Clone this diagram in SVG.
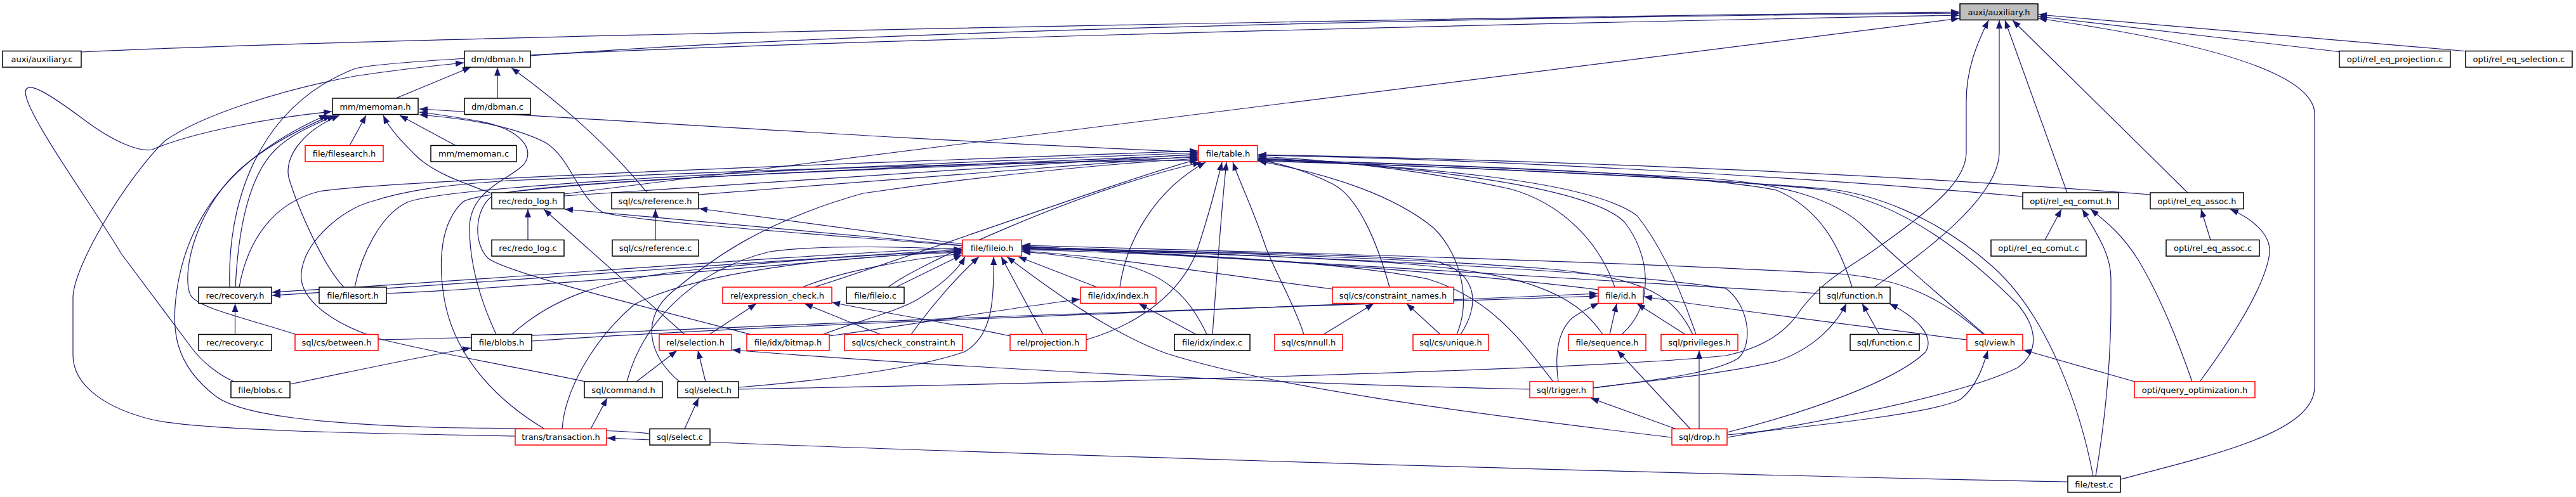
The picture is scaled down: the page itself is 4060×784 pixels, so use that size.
<svg xmlns="http://www.w3.org/2000/svg" width="4060" height="784" viewBox="0 0 4060 784">
<style>
rect{fill:#fff;stroke:#000;stroke-width:1.5}
.r rect{stroke:#f00}
.root rect{fill:#bfbfbf}
text{font-family:"DejaVu Sans","Liberation Sans",sans-serif;font-size:13px;fill:#000;text-anchor:middle}
#edges path{fill:none;stroke:#191970;stroke-width:1.2;marker-end:url(#ah)}
</style>
<defs><marker id="ah" markerWidth="13" markerHeight="10" refX="13" refY="5" orient="auto" markerUnits="userSpaceOnUse"><path d="M0,0 L13,5 L0,10 z" fill="#191970"/></marker></defs>
<rect x="0" y="0" width="4060" height="784" style="stroke:none"/>
<g id="edges">
<path d="M128,82 C 700,55 2500,25 3088,19"/>
<path d="M836,88 C 1400,45 2500,25 3088,21"/>
<path d="M362,453 C 358,330 400,170 560,108 C 700,75 2500,35 3088,24"/>
<path d="M889,306 L3088,29"/>
<path d="M1164,614 C 1600,606 2500,585 2720,561 C 2780,548 2810,525 2830,500 C 2870,440 2920,420 2960,390 C 3060,320 3099,280 3099,240 L3099,160 C 3099,110 3115,70 3134,32"/>
<path d="M2954,453 C 3000,420 3151,320 3151,240 L3151,32"/>
<path d="M3258,304 L3160,32"/>
<path d="M3448,304 L3172,32"/>
<path d="M3890,81 L3213,23"/>
<path d="M3690,82 L3213,26"/>
<path d="M3342,756 C 3500,715 3648,680 3648,610 L3648,180 C 3648,120 3500,70 3213,29"/>
<path d="M624,155 L742,106"/>
<path d="M784,155 L784,106.5"/>
<path d="M1020,304 C 960,230 880,160 806,107"/>
<path d="M812,688 C 600,684 320,680 240,662 C 170,645 115,610 115,560 L115,470 C 115,420 200,280 260,222 C 320,180 450,140 560,120 C 640,108 690,103 731,99"/>
<path d="M369,602 C 345,592 318,570 303,550 L191,400 C 150,330 40,180 40,145 C 42,125 80,150 130,187 C 180,225 220,240 240,236 C 300,210 420,186 523,176"/>
<path d="M1024,684 C 960,676 750,676 680,674 C 500,668 380,655 340,625 C 275,575 268,520 280,450 C 300,330 380,240 516,181"/>
<path d="M468,528 C 380,500 310,485 300,465 C 285,430 310,320 390,257 C 430,225 480,200 522,182"/>
<path d="M371,453 C 375,370 390,280 434,236 C 460,210 500,195 528,182"/>
<path d="M542,453 C 510,420 470,330 455,280 C 448,245 480,205 535,182"/>
<path d="M551,229.5 L577,182"/>
<path d="M775,305 C 720,285 680,270 655,245 C 635,225 615,205 604,182"/>
<path d="M718,229.5 L630,182"/>
<path d="M1889,240 C 1500,225 900,185 661,172"/>
<path d="M782,527.5 C 760,480 740,420 740,360 C 740,300 800,285 825,260 C 845,235 820,205 760,192 C 720,185 690,180 661,177"/>
<path d="M1517,388 C 1300,370 1000,350 950,335 C 910,310 900,250 860,225 C 800,195 720,186 661,181"/>
<path d="M370.5,527.5 L370.5,479"/>
<path d="M1517,391 C 1200,405 800,440 429,461"/>
<path d="M1517,394 C 1200,410 800,445 429,466"/>
<path d="M377,453 C 390,380 430,320 503,302 C 600,285 1400,255 1888,238"/>
<path d="M559,453 C 570,400 600,340 640,320 C 700,290 1400,260 1888,241"/>
<path d="M889,309 C 1300,280 1700,254 1888,243"/>
<path d="M1101,307 C 1400,285 1700,262 1888,246"/>
<path d="M858,676.5 C 780,630 715,560 700,470 C 690,410 695,350 730,318 C 790,285 1500,262 1888,244"/>
<path d="M1183,527.5 C 1000,480 800,430 770,408 C 745,385 748,330 775,310 C 820,285 1500,262 1888,248"/>
<path d="M1283,453 C 1450,400 1750,290 1888,251"/>
<path d="M1071,602 C 1020,560 1010,500 1060,460 C 1120,410 1200,350 1360,305 C 1600,270 1800,255 1888,250"/>
<path d="M923,602 C 820,580 700,560 600,535 C 520,510 470,470 475,430 C 480,380 540,330 585,318 C 640,300 700,292 800,285 C 1200,268 1600,255 1888,253"/>
<path d="M988,602 C 1010,520 1080,430 1213,397 C 1300,385 1450,390 1516,394"/>
<path d="M1400,453 C 1440,420 1700,300 1893,256"/>
<path d="M1765,453 C 1775,380 1820,300 1900,256"/>
<path d="M1712,536 C 1800,510 1860,460 1885,400 C 1905,340 1915,300 1926,256"/>
<path d="M1911,527.5 C 1918,430 1925,330 1933,256"/>
<path d="M2055,527.5 C 2040,480 2010,430 1995,390 C 1975,330 1955,290 1943,256"/>
<path d="M2190,453 C 2170,380 2140,310 2100,290 C 2060,270 2020,258 1983,252"/>
<path d="M2296,527.5 C 2320,470 2300,400 2260,360 C 2200,310 2100,275 1983,254"/>
<path d="M2545,453 C 2520,380 2460,320 2380,298 C 2250,270 2100,252 1983,247"/>
<path d="M2556,527.5 C 2610,480 2600,400 2560,350 C 2500,290 2200,260 1983,249"/>
<path d="M2673,527.5 C 2650,460 2620,390 2580,340 C 2500,280 2200,262 1983,250"/>
<path d="M2919,453 C 2900,390 2870,330 2800,300 C 2650,270 2200,258 1983,251"/>
<path d="M3128,527.5 C 3050,460 2980,400 2940,360 C 2890,310 2800,290 2700,282 C 2400,265 2200,258 1983,252"/>
<path d="M2722,690 C 2900,660 3100,620 3180,580 C 3220,550 3205,510 3180,480 C 3100,400 3000,320 2880,300 C 2700,280 2200,260 1983,253"/>
<path d="M3299,751 C 3280,650 3230,500 3140,420 C 3050,340 2950,305 2880,298 C 2600,275 2200,260 1983,254"/>
<path d="M3188,310 C 2800,275 2300,250 1983,245"/>
<path d="M3389,307 C 2900,268 2300,250 1983,244"/>
<path d="M2100,456 C 1900,430 1750,405 1611,396"/>
<path d="M2302,527.5 C 2340,470 2320,420 2250,410 C 2100,400 1800,395 1611,393"/>
<path d="M2520,457 C 2300,430 1900,400 1611,394"/>
<path d="M2526,527.5 C 2480,460 2400,430 2200,415 C 2000,402 1800,397 1611,392"/>
<path d="M2668,527.5 C 2640,470 2600,440 2450,425 C 2200,405 1800,395 1611,390"/>
<path d="M2448,602 C 2400,540 2350,470 2250,440 C 2100,410 1800,398 1611,391"/>
<path d="M2511,612 C 2600,600 2700,590 2740,565 C 2765,540 2755,480 2720,455 C 2500,420 1900,400 1611,389"/>
<path d="M2868,463 C 2500,440 1900,405 1611,388"/>
<path d="M3126,527.5 C 3060,470 3000,440 2900,432 C 2500,410 1900,395 1611,387"/>
<path d="M1902,527.5 C 1880,480 1850,440 1780,420 C 1700,405 1650,400 1611,397"/>
<path d="M1296,528 C 1340,510 1420,490 1450,470 C 1490,445 1510,425 1521,405"/>
<path d="M1436,527.5 C 1470,480 1510,435 1543,405"/>
<path d="M1164,611 C 1300,600 1450,580 1520,555 C 1565,530 1567,470 1566,405"/>
<path d="M1644,527.5 L1578,405"/>
<path d="M2635,690 C 2300,650 2000,610 1837,557 C 1750,525 1660,460 1587,405"/>
<path d="M1729,453 L1605,405"/>
<path d="M1412,453 L1516,402"/>
<path d="M806,528 C 870,470 950,440 1100,425 C 1300,405 1450,398 1516,397"/>
<path d="M1265,453 C 1320,430 1420,410 1516,400"/>
<path d="M886,676.5 C 890,620 930,540 1000,480 C 1100,430 1300,405 1516,398"/>
<path d="M609,463 C 900,450 1300,410 1516,395"/>
<path d="M1517,387 L890,330"/>
<path d="M1517,385 L1102,329"/>
<path d="M838,538 C 1200,512 1800,495 2518,463"/>
<path d="M596,536 C 900,530 1360,506 1700,495 C 2000,485 2300,475 2518,467"/>
<path d="M2456,602 C 2450,560 2455,520 2480,500 C 2495,490 2505,485 2520,478"/>
<path d="M2537,527.5 L2548,479"/>
<path d="M2656,527.5 L2580,479"/>
<path d="M3100,536 C 2900,510 2720,488 2591,468"/>
<path d="M2086,527.5 L2165,479"/>
<path d="M2270,527.5 L2217,479"/>
<path d="M1307,530 C 1450,510 1600,485 1702,472"/>
<path d="M1885,527.5 L1795,479"/>
<path d="M1118,527.5 L1192,479"/>
<path d="M1388,527.5 C 1360,517 1320,500 1268,479"/>
<path d="M1592,530 C 1500,510 1400,495 1311,477"/>
<path d="M1003,602 L1067,553"/>
<path d="M1112,602 L1100,553"/>
<path d="M2411,614 C 2000,605 1500,580 1154,552"/>
<path d="M832,378.5 L832,330"/>
<path d="M1079,527.5 L857,330"/>
<path d="M1033,378.5 L1033,330"/>
<path d="M2664,676.5 L2549,553"/>
<path d="M2678,676.5 L2678,553"/>
<path d="M2641,676.5 L2507,628"/>
<path d="M2722,686 C 2900,668 3050,650 3090,630 C 3115,610 3125,580 3133,553"/>
<path d="M3368,603 L3189,552"/>
<path d="M2962,527.5 L2935,479"/>
<path d="M2511,612 C 2600,600 2720,590 2800,570 C 2860,550 2895,510 2910,479"/>
<path d="M2722,682 C 2850,650 2990,600 3035,555 C 3050,530 3020,500 2978,479"/>
<path d="M3223,378.5 L3249,330"/>
<path d="M3303,751 C 3320,650 3327,560 3327,480 L3327,440 C 3327,400 3305,370 3282,330"/>
<path d="M3455,602 C 3430,530 3400,460 3370,410 C 3345,370 3320,350 3295,330"/>
<path d="M3484,378.5 L3469,330"/>
<path d="M3467,602 C 3520,530 3570,450 3577,400 C 3580,370 3550,345 3515,330"/>
<path d="M3259,760 C 2500,745 1400,710 957,691"/>
<path d="M931,676.5 L957,628"/>
<path d="M1079,676.5 L1101,628"/>
<path d="M457,606 C 560,585 650,565 742,549"/>
</g>
<g id="auxiliary_h" class="root"><rect x="3089" y="6" width="123" height="25.5"/><text x="3150.5" y="23.5">auxi/auxiliary.h</text></g>
<g id="auxiliary_c"><rect x="4" y="80.5" width="124" height="25.5"/><text x="66" y="98">auxi/auxiliary.c</text></g>
<g id="dbman_h"><rect x="732" y="80.5" width="104" height="25.5"/><text x="784" y="98">dm/dbman.h</text></g>
<g id="rel_eq_projection_c"><rect x="3687" y="80.5" width="175" height="25.5"/><text x="3774.5" y="98">opti/rel_eq_projection.c</text></g>
<g id="rel_eq_selection_c"><rect x="3886" y="80.5" width="168" height="25.5"/><text x="3970" y="98">opti/rel_eq_selection.c</text></g>
<g id="dbman_c"><rect x="732" y="155" width="104" height="25.5"/><text x="784" y="172.5">dm/dbman.c</text></g>
<g id="memoman_h"><rect x="524" y="155" width="135" height="25.5"/><text x="591.5" y="172.5">mm/memoman.h</text></g>
<g id="filesearch_h" class="r"><rect x="481" y="229.5" width="123" height="25.5"/><text x="542.5" y="247">file/filesearch.h</text></g>
<g id="memoman_c"><rect x="679" y="229.5" width="135" height="25.5"/><text x="746.5" y="247">mm/memoman.c</text></g>
<g id="table_h" class="r"><rect x="1889" y="229.5" width="93" height="25.5"/><text x="1935.5" y="247">file/table.h</text></g>
<g id="redo_log_h"><rect x="775" y="304" width="114" height="25.5"/><text x="832" y="321.5">rec/redo_log.h</text></g>
<g id="reference_h"><rect x="964" y="304" width="137" height="25.5"/><text x="1032.5" y="321.5">sql/cs/reference.h</text></g>
<g id="rel_eq_comut_h"><rect x="3188" y="304" width="151" height="25.5"/><text x="3263.5" y="321.5">opti/rel_eq_comut.h</text></g>
<g id="rel_eq_assoc_h"><rect x="3389" y="304" width="147" height="25.5"/><text x="3462.5" y="321.5">opti/rel_eq_assoc.h</text></g>
<g id="redo_log_c"><rect x="775" y="378.5" width="114" height="25.5"/><text x="832" y="396">rec/redo_log.c</text></g>
<g id="reference_c"><rect x="965" y="378.5" width="136" height="25.5"/><text x="1033" y="396">sql/cs/reference.c</text></g>
<g id="fileio_h" class="r"><rect x="1517" y="378.5" width="93" height="25.5"/><text x="1563.5" y="396">file/fileio.h</text></g>
<g id="rel_eq_comut_c"><rect x="3138" y="378.5" width="150" height="25.5"/><text x="3213" y="396">opti/rel_eq_comut.c</text></g>
<g id="rel_eq_assoc_c"><rect x="3414" y="378.5" width="147" height="25.5"/><text x="3487.5" y="396">opti/rel_eq_assoc.c</text></g>
<g id="recovery_h"><rect x="313" y="453" width="115" height="25.5"/><text x="370.5" y="470.5">rec/recovery.h</text></g>
<g id="filesort_h"><rect x="503" y="453" width="106" height="25.5"/><text x="556" y="470.5">file/filesort.h</text></g>
<g id="expression_check_h" class="r"><rect x="1139" y="453" width="172" height="25.5"/><text x="1225" y="470.5">rel/expression_check.h</text></g>
<g id="fileio_c"><rect x="1334" y="453" width="91" height="25.5"/><text x="1379.5" y="470.5">file/fileio.c</text></g>
<g id="index_h" class="r"><rect x="1703" y="453" width="119" height="25.5"/><text x="1762.5" y="470.5">file/idx/index.h</text></g>
<g id="constraint_names_h" class="r"><rect x="2100" y="453" width="191" height="25.5"/><text x="2195.5" y="470.5">sql/cs/constraint_names.h</text></g>
<g id="id_h" class="r"><rect x="2519" y="453" width="71" height="25.5"/><text x="2554.5" y="470.5">file/id.h</text></g>
<g id="function_h"><rect x="2868" y="453" width="111" height="25.5"/><text x="2923.5" y="470.5">sql/function.h</text></g>
<g id="recovery_c"><rect x="313" y="527.5" width="115" height="25.5"/><text x="370.5" y="545">rec/recovery.c</text></g>
<g id="between_h" class="r"><rect x="465" y="527.5" width="131" height="25.5"/><text x="530.5" y="545">sql/cs/between.h</text></g>
<g id="blobs_h"><rect x="743" y="527.5" width="95" height="25.5"/><text x="790.5" y="545">file/blobs.h</text></g>
<g id="selection_h" class="r"><rect x="1039" y="527.5" width="114" height="25.5"/><text x="1096" y="545">rel/selection.h</text></g>
<g id="bitmap_h" class="r"><rect x="1177" y="527.5" width="130" height="25.5"/><text x="1242" y="545">file/idx/bitmap.h</text></g>
<g id="check_constraint_h" class="r"><rect x="1331" y="527.5" width="186" height="25.5"/><text x="1424" y="545">sql/cs/check_constraint.h</text></g>
<g id="projection_h" class="r"><rect x="1592" y="527.5" width="120" height="25.5"/><text x="1652" y="545">rel/projection.h</text></g>
<g id="index_c"><rect x="1851" y="527.5" width="119" height="25.5"/><text x="1910.5" y="545">file/idx/index.c</text></g>
<g id="nnull_h" class="r"><rect x="2009" y="527.5" width="107" height="25.5"/><text x="2062.5" y="545">sql/cs/nnull.h</text></g>
<g id="unique_h" class="r"><rect x="2227" y="527.5" width="119" height="25.5"/><text x="2286.5" y="545">sql/cs/unique.h</text></g>
<g id="sequence_h" class="r"><rect x="2472" y="527.5" width="122" height="25.5"/><text x="2533" y="545">file/sequence.h</text></g>
<g id="privileges_h" class="r"><rect x="2618" y="527.5" width="121" height="25.5"/><text x="2678.5" y="545">sql/privileges.h</text></g>
<g id="function_c"><rect x="2916" y="527.5" width="109" height="25.5"/><text x="2970.5" y="545">sql/function.c</text></g>
<g id="view_h" class="r"><rect x="3100" y="527.5" width="88" height="25.5"/><text x="3144" y="545">sql/view.h</text></g>
<g id="blobs_c"><rect x="364" y="602" width="93" height="25.5"/><text x="410.5" y="619.5">file/blobs.c</text></g>
<g id="command_h"><rect x="921" y="602" width="123" height="25.5"/><text x="982.5" y="619.5">sql/command.h</text></g>
<g id="select_h"><rect x="1068" y="602" width="96" height="25.5"/><text x="1116" y="619.5">sql/select.h</text></g>
<g id="trigger_h" class="r"><rect x="2411" y="602" width="100" height="25.5"/><text x="2461" y="619.5">sql/trigger.h</text></g>
<g id="query_optimization_h" class="r"><rect x="3364" y="602" width="190" height="25.5"/><text x="3459" y="619.5">opti/query_optimization.h</text></g>
<g id="transaction_h" class="r"><rect x="812" y="676.5" width="144" height="25.5"/><text x="884" y="694">trans/transaction.h</text></g>
<g id="select_c"><rect x="1024" y="676.5" width="95" height="25.5"/><text x="1071.5" y="694">sql/select.c</text></g>
<g id="drop_h" class="r"><rect x="2635" y="676.5" width="87" height="25.5"/><text x="2678.5" y="694">sql/drop.h</text></g>
<g id="test_c"><rect x="3259" y="751" width="83" height="25.5"/><text x="3300.5" y="768.5">file/test.c</text></g>
</svg>
